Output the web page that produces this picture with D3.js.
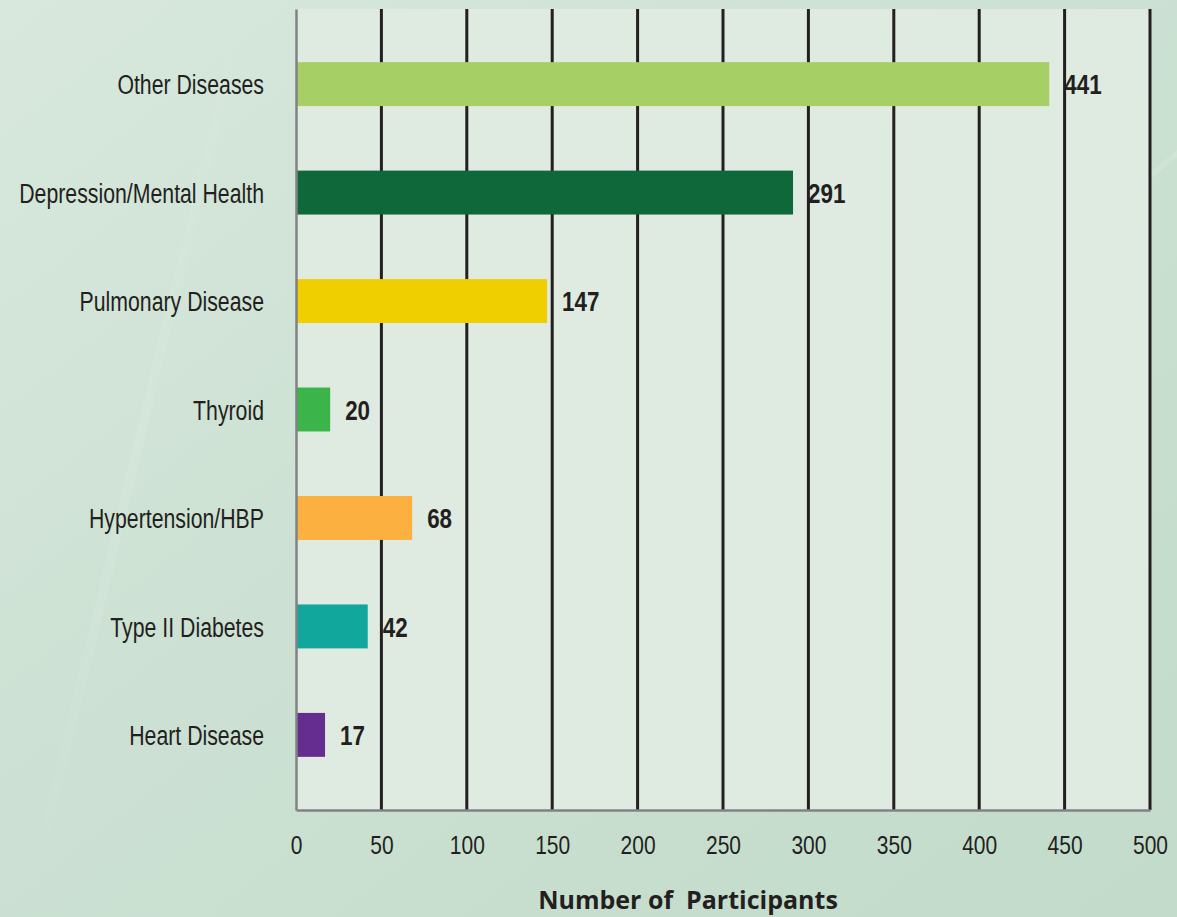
<!DOCTYPE html>
<html>
<head>
<meta charset="utf-8">
<script src="https://cdn.jsdelivr.net/npm/d3@7"></script>
<style>
  html, body { margin: 0; padding: 0; background: #cde2d4; }
  svg { display: block; }
  .cond { font-family: "Liberation Sans", Arial, sans-serif; }
</style>
</head>
<body>
<svg id="chart" width="1177" height="917"></svg>
<script>
// Conditions reported by participants (top to bottom)
const categories = [
  "Other Diseases",
  "Depression/Mental Health",
  "Pulmonary Disease",
  "Thyroid",
  "Hypertension/HBP",
  "Type II Diabetes",
  "Heart Disease"
];
const participants = [441, 291, 147, 20, 68, 42, 17];
const barColors = ["#a6d066", "#0e683a", "#f0cf00", "#3bb54a", "#fbb040", "#12a79d", "#662d91"];
const xTicks = [0, 50, 100, 150, 200, 250, 300, 350, 400, 450, 500];
const xTitle = "Number of  Participants";

const W = 1177, H = 917;
const plot = { left: 296, right: 1150, top: 9, bottom: 810 };

// horizontal squeeze factors giving a condensed face
const catScale = 0.76, tickScale = 0.84, valScale = 0.8;

const svg = d3.select("#chart");
const defs = svg.append("defs");

// Soft green backdrop
const bg = defs.append("linearGradient").attr("id", "bgGrad")
  .attr("x1", "0%").attr("y1", "0%").attr("x2", "100%").attr("y2", "100%");
bg.append("stop").attr("offset", "0%").attr("stop-color", "#d8e8dc");
bg.append("stop").attr("offset", "45%").attr("stop-color", "#cce1d3");
bg.append("stop").attr("offset", "100%").attr("stop-color", "#c2dbca");
svg.append("rect").attr("width", W).attr("height", H).attr("fill", "url(#bgGrad)");

// faint light streaks across the backdrop
const streak = defs.append("linearGradient").attr("id", "streak")
  .attr("x1", "0%").attr("y1", "0%").attr("x2", "100%").attr("y2", "0%");
streak.append("stop").attr("offset", "0%").attr("stop-color", "#ffffff").attr("stop-opacity", 0);
streak.append("stop").attr("offset", "50%").attr("stop-color", "#ffffff").attr("stop-opacity", 0.2);
streak.append("stop").attr("offset", "100%").attr("stop-color", "#ffffff").attr("stop-opacity", 0);
svg.append("path")
  .attr("d", "M20,917 L240,0 L250,0 L30,917 Z")
  .attr("fill", "url(#streak)").attr("opacity", 0.45);
svg.append("path")
  .attr("d", "M1177,150 L1060,250 L1060,254 L1177,157 Z")
  .attr("fill", "#ffffff").attr("opacity", 0.15);

// Scales
const x = d3.scaleLinear().domain([0, 500]).range([plot.left, plot.right]);
const y = d3.scaleBand().domain(categories)
  .range([plot.top, plot.bottom])
  .paddingInner(0.595)
  .paddingOuter(0.49);

// Plot panel
svg.append("rect")
  .attr("x", plot.left).attr("y", plot.top)
  .attr("width", plot.right - plot.left).attr("height", plot.bottom - plot.top)
  .attr("fill", "#dfeae1");

// Vertical gridlines
svg.append("g").selectAll("line")
  .data(xTicks.filter(d => d > 0))
  .join("line")
  .attr("x1", d => x(d)).attr("x2", d => x(d))
  .attr("y1", plot.top).attr("y2", plot.bottom)
  .attr("stroke", "#231f20").attr("stroke-width", 3);

// Bars
svg.append("g").selectAll("rect")
  .data(categories)
  .join("rect")
  .attr("x", x(0))
  .attr("y", d => y(d))
  .attr("width", (d, i) => x(participants[i]) - x(0))
  .attr("height", y.bandwidth())
  .attr("fill", (d, i) => barColors[i]);

// Value labels
svg.append("g").selectAll("text")
  .data(categories)
  .join("text")
  .attr("class", "cond")
  .attr("transform", (d, i) =>
    `translate(${x(participants[i]) + 15},${y(d) + y.bandwidth() / 2}) scale(${valScale},1)`)
  .attr("dy", "0.36em")
  .attr("font-size", 28)
  .attr("font-weight", "bold")
  .attr("fill", "#231f20")
  .text((d, i) => participants[i]);

// Bottom axis
const xAxis = d3.axisBottom(x).tickValues(xTicks).tickSize(0).tickPadding(26);
const gx = svg.append("g")
  .attr("transform", `translate(0,${plot.bottom})`)
  .call(xAxis);
gx.select(".domain").attr("stroke", "#808285").attr("stroke-width", 2.5);
gx.selectAll("text")
  .attr("class", "cond")
  .attr("font-size", 25)
  .attr("fill", "#231f20")
  .attr("dy", "0.71em")
  .attr("transform", `scale(${tickScale},1)`);

// Left axis
const labelPad = 32;
const yAxis = d3.axisLeft(y).tickSize(0).tickPadding(labelPad);
const gy = svg.append("g")
  .attr("transform", `translate(${plot.left},0)`)
  .call(yAxis);
gy.select(".domain").attr("stroke", "#808285").attr("stroke-width", 2.5);
gy.selectAll("text")
  .attr("class", "cond")
  .attr("font-size", 28)
  .attr("fill", "#231f20")
  .attr("x", -labelPad / catScale)
  .attr("dy", "0.36em")
  .attr("transform", `scale(${catScale},1)`);

// Axis title
svg.append("text")
  .attr("x", 688)
  .attr("y", 909)
  .attr("text-anchor", "middle")
  .attr("font-family", "'Open Sans', 'Liberation Sans', sans-serif")
  .attr("font-weight", "bold")
  .attr("font-size", 25)
  .attr("fill", "#231f20")
  .style("white-space", "pre")
  .text(xTitle);
</script>
</body>
</html>
